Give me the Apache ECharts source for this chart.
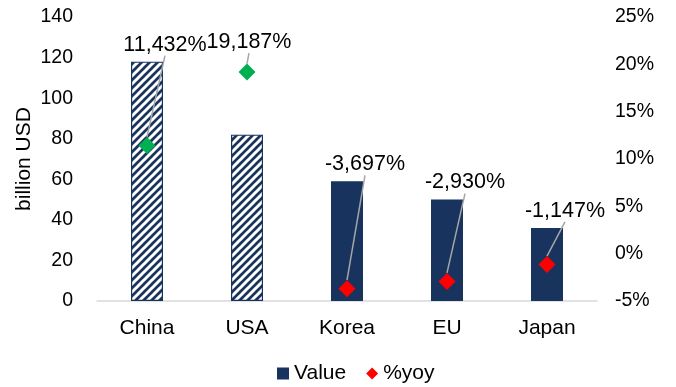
<!DOCTYPE html>
<html>
<head>
<meta charset="utf-8">
<script src="https://cdn.jsdelivr.net/npm/echarts@6/dist/echarts.min.js"></script>
<style>
  html, body { margin: 0; padding: 0; background: #fff; }
  #chart { width: 676px; height: 387px; }
</style>
</head>
<body>
<div id="chart"></div>
<script>
// Trade balance by partner (billion USD) and its year-on-year change (%)
const categories = ['China', 'USA', 'Korea', 'EU', 'Japan'];
const values = [118, 82, 59, 50, 36];
const yoy = [11.432, 19.187, -3.697, -2.930, -1.147];
const hatched = [true, true, false, false, false];

const NAVY = '#17335E';
const FONT = '"Liberation Sans", Arial, sans-serif';

// Diagonal white-on-navy hatch used for the first two partners
function makeHatch() {
  const s = 8;
  const c = document.createElement('canvas');
  c.width = s; c.height = s;
  const g = c.getContext('2d');
  g.fillStyle = NAVY;
  g.fillRect(0, 0, s, s);
  g.strokeStyle = '#ffffff';
  g.lineWidth = 3;
  g.beginPath();
  g.moveTo(-1, s + 1); g.lineTo(s + 1, -1);
  g.moveTo(-3, 3); g.lineTo(3, -3);
  g.moveTo(s - 3, s + 3); g.lineTo(s + 3, s - 3);
  g.stroke();
  return c;
}
const hatch = makeHatch();

const fmtPct = v => v.toFixed(3).replace('.', ',') + '%';

const chart = echarts.init(document.getElementById('chart'), null, { renderer: 'canvas' });

const barData = values.map((v, i) => ({
  value: v,
  itemStyle: hatched[i]
    ? { color: { image: hatch, repeat: 'repeat' }, borderColor: NAVY, borderWidth: 1.2 }
    : { color: NAVY }
}));

const yoyData = yoy.map(v => ({
  value: v,
  itemStyle: { color: v >= 0 ? '#00B050' : '#FF0000', opacity: 1 }
}));

chart.setOption({
  animation: false,
  textStyle: { fontFamily: FONT },
  grid: { left: 97, right: 79, top: 17, bottom: 86 },
  legend: {
    top: 358,
    left: 272,
    itemGap: 20,
    itemWidth: 12,
    itemHeight: 12,
    textStyle: { fontFamily: FONT, fontSize: 21, color: '#000' },
    data: [
      { name: 'Value', icon: 'rect' },
      { name: '%yoy', icon: 'diamond', itemStyle: { color: '#FF0000', opacity: 1 } }
    ]
  },
  xAxis: {
    type: 'category',
    data: categories,
    axisTick: { show: false },
    axisLine: { lineStyle: { color: '#D9D9D9', width: 1.5 } },
    axisLabel: { fontFamily: FONT, fontSize: 21, color: '#000', margin: 17 }
  },
  yAxis: [
    {
      type: 'value',
      min: 0, max: 140, interval: 20,
      name: 'billion USD',
      nameLocation: 'middle',
      nameGap: 62,
      nameMoveOverlap: false,
      nameRotate: 90,
      nameTextStyle: { fontFamily: FONT, fontSize: 21, color: '#000' },
      axisLine: { show: false },
      axisTick: { show: false },
      splitLine: { show: false },
      axisLabel: { fontFamily: FONT, fontSize: 19.5, color: '#000', margin: 24 }
    },
    {
      type: 'value',
      min: -5, max: 25, interval: 5,
      axisLine: { show: false },
      axisTick: { show: false },
      splitLine: { show: false },
      axisLabel: {
        fontFamily: FONT, fontSize: 19.5, color: '#000', margin: 18,
        formatter: v => v + '%'
      }
    }
  ],
  series: [
    {
      name: 'Value',
      type: 'bar',
      barWidth: 32,
      itemStyle: { color: NAVY },
      data: barData
    },
    {
      name: '%yoy',
      type: 'scatter',
      yAxisIndex: 1,
      symbol: 'diamond',
      symbolSize: 17,
      itemStyle: { color: '#FF0000', opacity: 1 },
      z: 3,
      data: yoyData,
      label: {
        show: true,
        fontFamily: FONT,
        fontSize: 21.5,
        color: '#000',
        formatter: p => fmtPct(p.value)
      },
      labelLine: { show: true, lineStyle: { color: '#A6A6A6', width: 1.5 } },
      labelLayout: function (p) {
        const i = p.dataIndex;
        const barTop = chart.convertToPixel({ yAxisIndex: 0 }, values[i]);
        const pt = chart.convertToPixel({ yAxisIndex: 1 }, yoy[i]);
        const cx = chart.convertToPixel({ xAxisIndex: 0 }, categories[i]);
        const above = pt < barTop;
        return {
          x: cx + (above ? 2 : 18),
          y: Math.min(barTop, pt) - (above ? 30 : 17),
          align: 'center',
          verticalAlign: 'middle'
        };
      }
    }
  ]
});
</script>
</body>
</html>
